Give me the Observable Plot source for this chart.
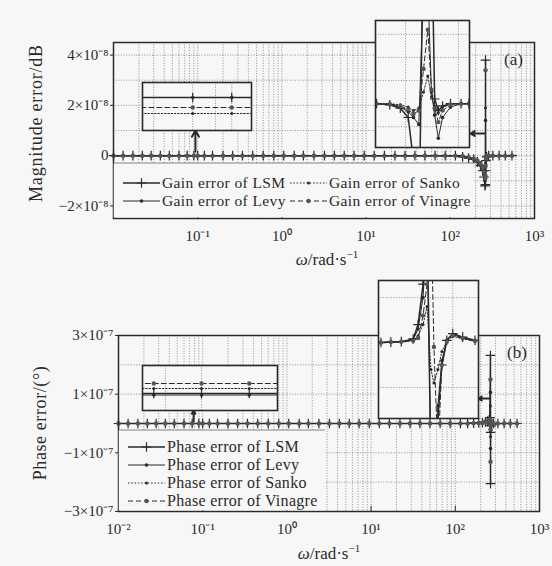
<!DOCTYPE html>
<html><head><meta charset="utf-8">
<script src="https://cdn.jsdelivr.net/npm/d3@7"></script>
<script src="https://cdn.jsdelivr.net/npm/@observablehq/plot@0.6"></script>
<style>
html,body{margin:0;padding:0;background:#f7f7f7;}
#wrap{position:relative;width:552px;height:566px;overflow:hidden;background:#f7f7f7;font-family:"Liberation Serif","Times New Roman",serif;color:#222;}
#wrap > *{position:absolute;}
</style></head><body><div id="wrap"></div>
<script>
// ---------------- data ----------------
const omega = [0.01, 0.013, 0.017, 0.022, 0.028, 0.036, 0.046, 0.06, 0.075, 0.09, 0.1, 0.12, 0.15, 0.2, 0.26, 0.34, 0.45, 0.6, 0.8, 1.05, 1.4, 1.8, 2.4, 3.2, 4.2, 5.5, 7.2, 9.5, 12.5, 16.5, 22, 29, 38, 50, 66, 87, 115, 140, 165, 190, 210, 228, 242, 252, 258, 261.5, 262, 262.5, 265, 270, 285, 320, 380, 450, 540];
const seriesNames = ["LSM", "Levy", "Sanko", "Vinagre"];
// panel (a): gain error, units of 1e-8 dB
const gainLSM     = [0,0,0,0,0,0,0,0,0,0, 0,0,0,0,0,0,0,0,0,0, 0,0,0,0,0,0,0,0,0,0, 0,0,0,0,0,0, 0, -0.05, -0.1, -0.15, -0.25, -0.4, -0.6, -0.85, -1.2, -1.15, 3.8, -0.6, -0.2, -0.05, 0, 0, 0, 0, 0];
const gainLevy    = [0,0,0,0,0,0,0,0,0,0, 0,0,0,0,0,0,0,0,0,0, 0,0,0,0,0,0,0,0,0,0, 0,0,0,0,0,0, 0, -0.03, -0.08, -0.15, -0.25, -0.38, -0.55, -0.75, -1.0, -0.9, 1.4, -0.45, -0.15, -0.03, 0, 0, 0, 0, 0];
const gainSanko   = [0,0,0,0,0,0,0,0,0,0, 0,0,0,0,0,0,0,0,0,0, 0,0,0,0,0,0,0,0,0,0, 0,0,0,0,0,0, 0, 0, -0.05, -0.1, -0.18, -0.28, -0.4, -0.55, -0.75, -0.65, 1.9, -0.3, -0.1, 0, 0, 0, 0, 0, 0];
const gainVinagre = [0,0,0,0,0,0,0,0,0,0, 0,0,0,0,0,0,0,0,0,0, 0,0,0,0,0,0,0,0,0,0, 0,0,0,0,0,0, 0, -0.02, -0.06, -0.12, -0.2, -0.32, -0.48, -0.65, -0.9, -0.8, 3.4, -0.4, -0.12, -0.02, 0, 0, 0, 0, 0];
// panel (b): phase error, units of 1e-7 deg
const phaseLSM     = [0,0,0,0,0,0,0,0,0,0, 0,0,0,0,0,0,0,0,0,0, 0,0,0,0,0,0,0,0,0,0, 0,0,0,0,0,0, 0, 0, 0.01, 0.02, 0.03, 0.05, 0.08, 0.12, 0.2, 2.32, -2.05, -0.3, -0.08, -0.02, 0, 0, 0, 0, 0];
const phaseLevy    = [0,0,0,0,0,0,0,0,0,0, 0,0,0,0,0,0,0,0,0,0, 0,0,0,0,0,0,0,0,0,0, 0,0,0,0,0,0, 0, 0, 0.01, 0.02, 0.03, 0.04, 0.06, 0.1, 0.16, 1.06, -0.85, -0.25, -0.06, -0.01, 0, 0, 0, 0, 0];
const phaseSanko   = [0,0,0,0,0,0,0,0,0,0, 0,0,0,0,0,0,0,0,0,0, 0,0,0,0,0,0,0,0,0,0, 0,0,0,0,0,0, 0, 0, 0, 0.01, 0.02, 0.03, 0.05, 0.08, 0.12, 0.6, -0.45, -0.15, -0.04, 0, 0, 0, 0, 0, 0];
const phaseVinagre = [0,0,0,0,0,0,0,0,0,0, 0,0,0,0,0,0,0,0,0,0, 0,0,0,0,0,0,0,0,0,0, 0,0,0,0,0,0, 0, 0, 0.01, 0.01, 0.02, 0.04, 0.06, 0.09, 0.14, 1.5, -1.3, -0.2, -0.05, -0.01, 0, 0, 0, 0, 0];

// inset (a1): zoom near w = 0.1 (arbitrary fine units)
const omegaA1 = [0.03, 0.1, 0.2, 0.4];
const insetA1 = [[3.3,3.3,3.3,3.3],[3.3,3.3,3.3,3.3],[1.7,1.7,1.7,1.7],[2.3,2.3,2.3,2.3]];
// inset (a2): zoom near resonance (units 1e-9 dB)
const omegaA2 = [249.5, 252, 254, 255.5, 256.5, 257.5, 258.4, 259.2, 259.9, 260.5, 261.2, 262, 263.5, 265.5, 267];
const insetA2 = [
  [0, -0.05, -0.2, -0.6, -2.5, -6, 8, 8, 8, 0.2, -0.3, -0.1, 0, 0, 0],
  [0, -0.05, -0.15, -0.35, -0.6, -0.9, 5, 5, 0.5, -0.5, -1.5, -0.6, -0.15, 0, 0],
  [0, 0, -0.05, -0.15, -0.3, -0.2, 0.5, 1.2, 0.3, -0.1, -0.4, -0.15, 0, 0, 0],
  [0, -0.02, -0.1, -0.25, -0.45, -0.3, 1.5, 3.2, 0.6, -0.2, -0.8, -0.3, -0.05, 0, 0]
];
// inset (b1): zoom near w = 0.1
const omegaB1 = [0.025, 0.04, 0.1, 0.25, 0.5];
const insetB1 = [[1.7,1.7,1.7,1.7,1.7],[1.55,1.55,1.55,1.55,1.55],[2.2,2.2,2.2,2.2,2.2],[2.7,2.7,2.7,2.7,2.7]];
// inset (b2): zoom near resonance (units 1e-7 deg)
const omegaB2 = [250.5, 252.5, 254.6, 257, 258, 259, 259.8, 260.6, 261.2, 262, 262.8, 263.8, 265, 267, 269.5];
const insetB2 = [
  [0, 0.01, 0.02, 0.08, 0.4, 1.3, 3, -3, -3, -1.7, -0.5, 0.05, 0.2, 0.12, 0.05],
  [0, 0.01, 0.02, 0.06, 0.3, 1.0, 2.5, -2.5, -2.5, -1.4, -0.4, 0.05, 0.18, 0.1, 0.04],
  [0, 0.01, 0.02, 0.05, 0.15, 0.4, 0.8, -0.6, -0.9, -0.6, -0.2, 0.04, 0.14, 0.08, 0.03],
  [0, 0.01, 0.02, 0.04, 0.1, 0.6, 1.3, 3, -0.1, -2.5, -0.5, 0.02, 0.15, 0.1, 0.04]
];

const xTickValues = [0.01, 0.1, 1, 10, 100, 1000];
const xTickLabels = ["10⁻²", "10⁻¹", "10⁰", "10¹", "10²", "10³"];
const yTicksA = [-2e-8, 0, 2e-8, 4e-8];
const yLabelsA = ["−2×10⁻⁸", "0", "2×10⁻⁸", "4×10⁻⁸"];
const yTicksB = [-3e-7, -1e-7, 1e-7, 3e-7];
const yLabelsB = ["−3×10⁻⁷", "−1×10⁻⁷", "1×10⁻⁷", "3×10⁻⁷"];
const legendA = ["Gain error of LSM", "Gain error of Levy", "Gain error of Sanko", "Gain error of Vinagre"];
const legendB = ["Phase error of LSM", "Phase error of Levy", "Phase error of Sanko", "Phase error of Vinagre"];
// zoom-indicator arrows (w, value in panel units)
const arrowsA = [{w1: 0.094, v1: 0.15, w2: 0.094, v2: 1.0}, {w1: 258, v1: 0.88, w2: 174, v2: 0.88}];
const arrowsB = [{w1: 0.078, v1: 0.08, w2: 0.078, v2: 0.44}, {w1: 258, v1: 0.85, w2: 188, v2: 0.85}];

// ---------------- style ----------------
const INK = "#2a2a2a", GRID = "#7a7a7a", BG = "#f7f7f7";
const FONT = "Liberation Serif, Times New Roman, serif";
const styles = {
  LSM:     {dash: undefined, sw: 1.5, symbol: "plus",   r: 3.2, fill: "none", stroke: INK},
  Levy:    {dash: undefined, sw: 1.0, symbol: "circle", r: 1.8, fill: INK, stroke: "none"},
  Sanko:   {dash: "1.5,1.8", sw: 1.0, symbol: "circle", r: 1.5, fill: INK, stroke: "none"},
  Vinagre: {dash: "5,3",     sw: 1.0, symbol: "circle", r: 2.2, fill: "#555", stroke: "none"}
};
const wrap = document.getElementById("wrap");
function place(el, left, top) { el.style.left = left + "px"; el.style.top = top + "px"; wrap.appendChild(el); }
function labelFor(vals, labels) { return d => { const i = vals.findIndex(v => Math.abs(v - d) <= Math.abs(d) * 1e-6 + 1e-20); return i < 0 ? "" : labels[i]; }; }

function seriesMarks(rowsBy, clip) {
  const m = [];
  seriesNames.forEach(s => { const st = styles[s];
    m.push(Plot.line(rowsBy[s], {x: "w", y: "v", stroke: INK, strokeWidth: st.sw, strokeDasharray: st.dash, clip})); });
  seriesNames.forEach(s => { const st = styles[s];
    m.push(Plot.dot(rowsBy[s], {x: "w", y: "v", symbol: st.symbol, r: st.r, fill: st.fill, stroke: st.stroke, strokeWidth: 1.2, clip})); });
  return m;
}

function mainPlot(o) {
  const rowsBy = {};
  seriesNames.forEach((s, k) => rowsBy[s] = o.values[k].map((v, i) => ({w: omega[i], v: v * o.unit})));
  const minor = d3.scaleLog().domain([0.01, 1000]).ticks();
  const gridY = d3.ticks(o.yDomain[0], o.yDomain[1], 7);
  const y0 = o.yDomain[0], dy = (o.yDomain[1] - o.yDomain[0]) * 0.03;
  const marks = [
    Plot.ruleX(minor, {stroke: GRID, strokeWidth: 0.8, strokeDasharray: "1,1.6"}),
    Plot.ruleY(gridY, {stroke: GRID, strokeWidth: 0.8, strokeDasharray: "1,1.6"}),
    ...seriesMarks(rowsBy, false),
    Plot.ruleX(xTickValues, {y1: y0, y2: y0 + dy, stroke: INK, strokeWidth: 1}),
    Plot.frame({stroke: INK, strokeWidth: 1.5}),
    Plot.arrow(o.arrows, {x1: "w1", y1: d => d.v1 * o.unit, x2: "w2", y2: d => d.v2 * o.unit, stroke: INK, strokeWidth: 2, headLength: 6})
  ];
  return Plot.plot({
    width: 552, height: o.height,
    marginTop: o.mt, marginBottom: o.mb, marginLeft: o.ml, marginRight: o.mr,
    style: {fontFamily: FONT, fontSize: "15px", color: INK, background: "transparent", overflow: "visible"},
    x: {type: "log", domain: [0.01, 1000], ticks: xTickValues, tickFormat: d => (o.skipFirst && d === 0.01) ? "" : labelFor(xTickValues, xTickLabels)(d), tickSize: 0, tickPadding: 12, label: null},
    y: {domain: o.yDomain, ticks: o.yTicks, tickFormat: labelFor(o.yTicks, o.yLabels), tickSize: 3, tickPadding: 2, label: null},
    marks
  });
}

function insetPlot(o) {
  const rowsBy = {};
  seriesNames.forEach((s, k) => rowsBy[s] = o.values[k].map((v, i) => ({w: o.omega[i], v})));
  const marks = [
    Plot.ruleX(o.xGrid, {stroke: GRID, strokeWidth: 0.8, strokeDasharray: "1,1.6"}),
    Plot.ruleY(o.yGrid, {stroke: GRID, strokeWidth: 0.8, strokeDasharray: "1,1.6"}),
    ...seriesMarks(rowsBy, true),
    Plot.frame({stroke: INK, strokeWidth: 1.6})
  ];
  const svg = Plot.plot({
    width: o.w, height: o.h, margin: 0,
    style: {background: BG, overflow: "visible"},
    x: {type: o.xType, domain: o.xDomain, axis: null},
    y: {domain: o.yDomain, axis: null},
    marks
  });
  place(svg, o.left, o.top);
}

// ---------------- main panels ----------------
const pa = mainPlot({height: 252, mt: 42, mb: 34, ml: 113, mr: 18, yDomain: [-2.5e-8, 4.5e-8], yTicks: yTicksA, yLabels: yLabelsA, unit: 1e-8,
  values: [gainLSM, gainLevy, gainSanko, gainVinagre], arrows: arrowsA, skipFirst: true});
place(pa, 0, 0);
const pb = mainPlot({height: 252, mt: 45, mb: 31, ml: 118, mr: 13, yDomain: [-3e-7, 3e-7], yTicks: yTicksB, yLabels: yLabelsB, unit: 1e-7,
  values: [phaseLSM, phaseLevy, phaseSanko, phaseVinagre], arrows: arrowsB, skipFirst: false});
place(pb, 0, 290);

// ---------------- overlay: legends and titles ----------------
const ov = d3.create("svg").attr("width", 552).attr("height", 566).style("font-family", FONT).style("pointer-events", "none");
function legend(box, items, fs, ls) {
  ov.append("rect").attr("x", box.x).attr("y", box.y).attr("width", box.w).attr("height", box.h).attr("fill", BG);
  ov.append("line").attr("x1", box.x).attr("x2", box.x + box.w).attr("y1", box.y).attr("y2", box.y).attr("stroke", "#666").attr("stroke-width", 0.8);
  items.forEach(it => {
    const st = styles[it.s];
    const g = ov.append("g");
    g.append("line").attr("x1", it.x).attr("x2", it.x + 37).attr("y1", it.y - 5).attr("y2", it.y - 5)
      .attr("stroke", INK).attr("stroke-width", st.sw).attr("stroke-dasharray", st.dash || null);
    const sym = d3.symbol(st.symbol === "plus" ? d3.symbolPlus : d3.symbolCircle, Math.PI * st.r * st.r)();
    g.append("path").attr("d", sym).attr("transform", `translate(${it.x + 18.5},${it.y - 5})`)
      .attr("fill", st.fill).attr("stroke", st.stroke).attr("stroke-width", 1.2);
    g.append("text").attr("x", it.x + 39).attr("y", it.y).attr("font-size", fs).attr("letter-spacing", ls).attr("fill", INK).text(it.t);
  });
}
legend({x: 113.75, y: 163, w: 360, h: 54.25}, [
  {s: "LSM", t: legendA[0], x: 123, y: 188}, {s: "Levy", t: legendA[1], x: 123, y: 206},
  {s: "Sanko", t: legendA[2], x: 290, y: 188}, {s: "Vinagre", t: legendA[3], x: 290, y: 206}], 15.5, 0.4);
legend({x: 118.75, y: 430, w: 206, h: 80.25}, [
  {s: "LSM", t: legendB[0], x: 128, y: 452}, {s: "Levy", t: legendB[1], x: 128, y: 470},
  {s: "Sanko", t: legendB[2], x: 128, y: 488}, {s: "Vinagre", t: legendB[3], x: 128, y: 506}], 16, 0.3);

function xTitle(cx, y) {
  const t = ov.append("text").attr("x", cx).attr("y", y).attr("text-anchor", "middle").attr("font-size", 17).attr("fill", INK);
  t.append("tspan").attr("font-style", "italic").text("ω");
  t.append("tspan").text("/rad·s");
  t.append("tspan").attr("font-size", 11).attr("dy", -7).text("−1");
}
xTitle(327, 265);
xTitle(329, 559);
ov.append("text").attr("transform", "translate(42,123) rotate(-90)").attr("text-anchor", "middle").attr("font-size", 18).attr("fill", INK).attr("letter-spacing", 0.8).text("Magnitude error/dB");
ov.append("text").attr("transform", "translate(46,423) rotate(-90)").attr("text-anchor", "middle").attr("font-size", 18).attr("fill", INK).attr("letter-spacing", 0.6).text("Phase error/(°)");
ov.append("text").attr("x", 504).attr("y", 65).attr("font-size", 17).attr("fill", INK).text("(a)");
ov.append("text").attr("x", 507).attr("y", 358).attr("font-size", 17).attr("fill", INK).text("(b)");
place(ov.node(), 0, 0);

// ---------------- insets ----------------
insetPlot({left: 142, top: 82, w: 109, h: 48, xType: "log", xDomain: [0.041, 0.284], yDomain: [0, 4.8],
  omega: omegaA1, values: insetA1, xGrid: [0.05, 0.1, 0.15, 0.2], yGrid: []});
insetPlot({left: 375, top: 20, w: 94, h: 127, xType: "linear", xDomain: [249.3, 267.1], yDomain: [-1.9, 3.6],
  omega: omegaA2, values: insetA2, xGrid: [255, 265], yGrid: [-1, 1, 2, 3]});
insetPlot({left: 142, top: 365, w: 135, h: 45, xType: "log", xDomain: [0.0322, 0.43], yDomain: [0, 4.5],
  omega: omegaB1, values: insetB1, xGrid: [0.05, 0.1], yGrid: []});
insetPlot({left: 378, top: 280, w: 100, h: 138, xType: "linear", xDomain: [250, 270.2], yDomain: [-1.69, 1.38],
  omega: omegaB2, values: insetB2, xGrid: [265], yGrid: [-1, 1]});
</script></body></html>
